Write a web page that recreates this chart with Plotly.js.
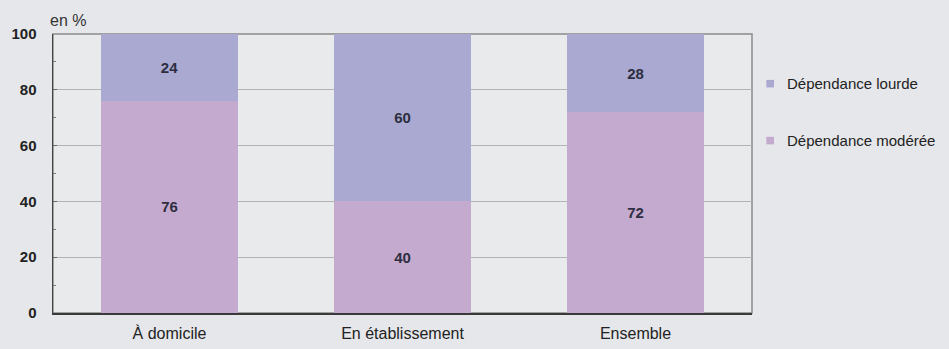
<!DOCTYPE html>
<html>
<head>
<meta charset="utf-8">
<script src="https://cdn.plot.ly/plotly-3.0.1.min.js"></script>
<style>
  html, body { margin: 0; padding: 0; background: #e6e7ea; }
  #chart { width: 949px; height: 349px; }
</style>
</head>
<body>
<div id="chart"></div>
<script>
// Répartition selon le niveau de dépendance, en %
const categories = ['À domicile', 'En établissement', 'Ensemble'];
const moderee = [76, 40, 72];
const lourde = [24, 60, 28];
const seriesNames = ['Dépendance lourde', 'Dépendance modérée'];
const yTicks = [0, 20, 40, 60, 80, 100];

const colLourde = '#a9a9d1';
const colModeree = '#c5aad0';
const baseFont = 'Liberation Sans, Arial, sans-serif';

const barCommon = {
  type: 'bar',
  x: categories,
  textposition: 'inside',
  insidetextanchor: 'middle',
  texttemplate: '%{y}',
  textfont: { family: baseFont, size: 15, color: '#2e2e40', weight: 'bold' },
  showlegend: false,
  hoverinfo: 'y'
};

const traces = [
  Object.assign({}, barCommon, { name: seriesNames[1], y: moderee, marker: { color: colModeree } }),
  Object.assign({}, barCommon, { name: seriesNames[0], y: lourde, marker: { color: colLourde } })
];

// Legend drawn as small square keys plus labels, to the right of the plot
const legendItems = [
  { name: seriesNames[0], color: colLourde, y: 0.822 },
  { name: seriesNames[1], color: colModeree, y: 0.618 }
];
const keyX = 1.026, keyHalfW = 0.0055, keyHalfH = 0.0135;

const shapes = [
  { type: 'rect', xref: 'paper', yref: 'paper', x0: 0, x1: 1, y0: 0, y1: 1,
    line: { color: '#8a8a8a', width: 1.5 }, layer: 'below' }
];
const annotations = [
  { xref: 'paper', yref: 'paper', x: -0.007, y: 1.0, xanchor: 'left', yanchor: 'bottom',
    yshift: 3, text: 'en %', showarrow: false, font: { family: baseFont, size: 16, color: '#333' } }
];
legendItems.forEach(function (it) {
  shapes.push({ type: 'rect', xref: 'paper', yref: 'paper',
    x0: keyX - keyHalfW, x1: keyX + keyHalfW, y0: it.y - keyHalfH, y1: it.y + keyHalfH,
    fillcolor: it.color, line: { width: 0 } });
  annotations.push({ xref: 'paper', yref: 'paper', x: 1.047, y: it.y,
    xanchor: 'left', yanchor: 'middle', text: it.name, showarrow: false,
    font: { family: baseFont, size: 15, color: '#222' } });
});

const layout = {
  width: 949,
  height: 349,
  paper_bgcolor: '#e6e7ea',
  plot_bgcolor: '#e9eaec',
  margin: { l: 53, r: 197, t: 34, b: 36 },
  barmode: 'stack',
  bargap: 0.41,
  font: { family: baseFont, color: '#222' },
  xaxis: {
    showgrid: false,
    showline: true,
    linecolor: '#3a3a3a',
    linewidth: 2,
    ticks: '',
    ticklabelstandoff: 5,
    tickfont: { family: baseFont, size: 16, color: '#222' },
    zeroline: false
  },
  yaxis: {
    range: [0, 100],
    tickvals: yTicks,
    showline: true,
    linecolor: '#444',
    linewidth: 1.5,
    ticks: 'inside',
    ticklen: 4,
    tickcolor: '#666',
    ticklabelstandoff: 12,
    gridcolor: '#b3b3b3',
    gridwidth: 1,
    zeroline: false,
    tickfont: { family: baseFont, size: 15, color: '#222', weight: 'bold' },
    minor: { dtick: 10, ticks: 'inside', ticklen: 3, tickcolor: '#777', showgrid: false }
  },
  shapes: shapes,
  annotations: annotations
};

Plotly.newPlot('chart', traces, layout, { displayModeBar: false, staticPlot: true });
</script>
</body>
</html>
